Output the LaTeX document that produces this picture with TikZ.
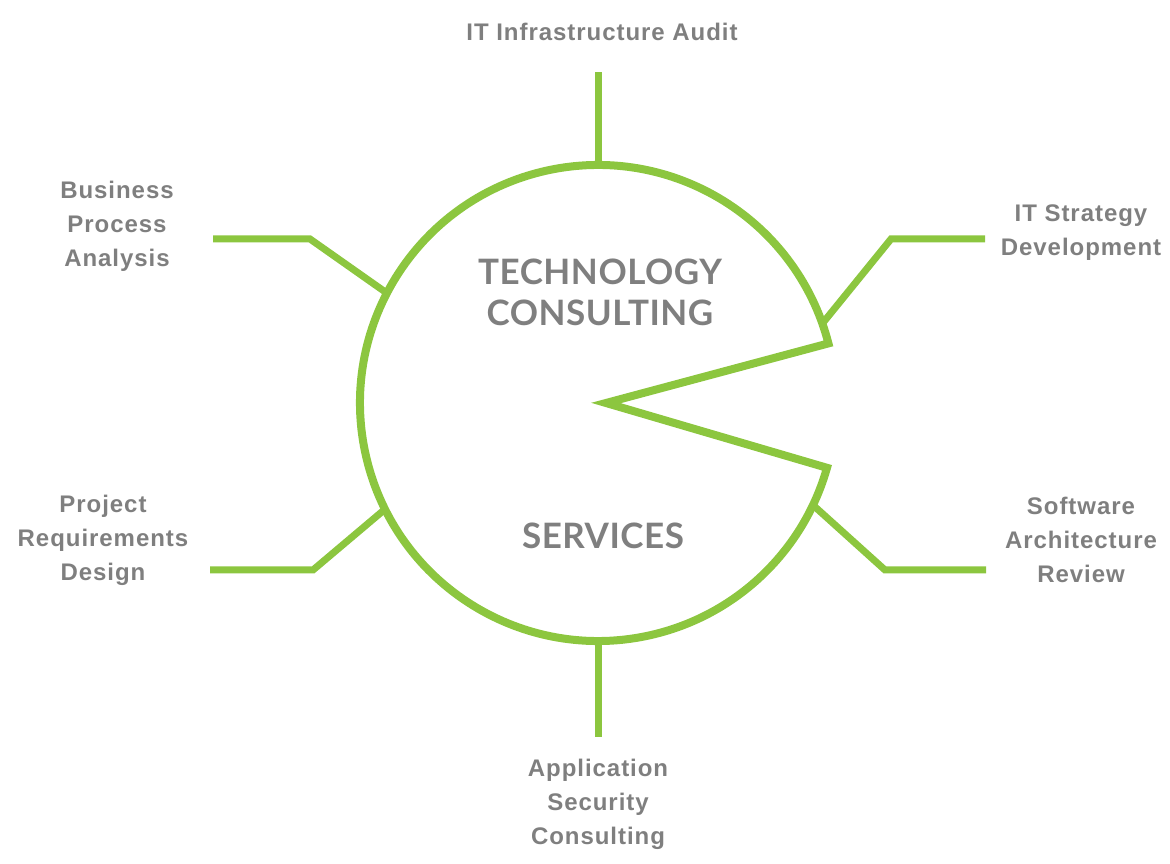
\documentclass[tikz,border=0pt]{standalone}
\usepackage{fontspec}
\usetikzlibrary{calc}
\setmainfont{Liberation Sans}
\newfontfamily\labelfont[LetterSpace=4]{Liberation Sans}
\newfontfamily\headfont[LetterSpace=1.5]{Lato}
\definecolor{ringgreen}{HTML}{8CC63F}
\definecolor{labelgray}{HTML}{7F7F7F}
\begin{document}
\begin{tikzpicture}[x=1pt,y=1pt,
  ring/.style={draw=ringgreen,line width=8pt,line join=miter},
  spoke/.style={draw=ringgreen,line width=7pt,line join=miter},
  sidelabel/.style={text=labelgray,align=center,inner sep=0pt,
    font=\labelfont\bfseries\fontsize{24}{34}\selectfont},
  headlabel/.style={text=labelgray,align=center,inner sep=0pt,
    font=\headfont\bfseries\fontsize{35}{41}\selectfont}]
\useasboundingbox (0,0) rectangle (1170,863);

% hub centre and the ring with its notch
\coordinate (c) at (598,460);
\def\R{238}
\draw[ring] ($(c)+(14.5:\R)$) arc[start angle=14.5,end angle=344.2,radius=\R]
  -- (606,460) -- cycle;

% attachment points on the ring
\coordinate (pTop) at ($(c)+(90:\R)$);
\coordinate (pBot) at ($(c)+(270:\R)$);
\coordinate (pUL)  at ($(c)+(152.5:\R)$);
\coordinate (pLL)  at ($(c)+(206.5:\R)$);
\coordinate (pUR)  at ($(c)+(19.5:\R)$);
\coordinate (pLR)  at ($(c)+(334.6:\R)$);

% outer ends and elbows of the spokes
\coordinate (eTop) at (598,791);
\coordinate (eBot) at (598,126);
\coordinate (kUL) at (310,624);  \coordinate (eUL) at (213,624);
\coordinate (kLL) at (313,293);  \coordinate (eLL) at (210,293);
\coordinate (kUR) at (891,624);  \coordinate (eUR) at (985,624);
\coordinate (kLR) at (885,293);  \coordinate (eLR) at (986,293);

\draw[spoke] (pTop) -- (eTop);
\draw[spoke] (pBot) -- (eBot);
\draw[spoke] (pUL) -- (kUL) -- (eUL);
\draw[spoke] (pLL) -- (kLL) -- (eLL);
\draw[spoke] (pUR) -- (kUR) -- (eUR);
\draw[spoke] (pLR) -- (kLR) -- (eLR);

% centre titles
\node[headlabel] (title) at (600,571) {TECHNOLOGY\\CONSULTING};
\node[headlabel] (services) at (603,327) {SERVICES};

% service labels
\node[sidelabel] (audit) at (602,831) {IT Infrastructure Audit};
\node[sidelabel] (bpa) at (117,637) {Business\\Process\\Analysis};
\node[sidelabel] (strategy) at (1081,630) {IT Strategy\\Development};
\node[sidelabel] (arch) at (1081,323) {Software\\Architecture\\Review};
\node[sidelabel] (req) at (103,323) {Project\\Requirements\\Design};
\node[sidelabel] (appsec) at (598,59) {Application\\Security\\Consulting};
\end{tikzpicture}
\end{document}
